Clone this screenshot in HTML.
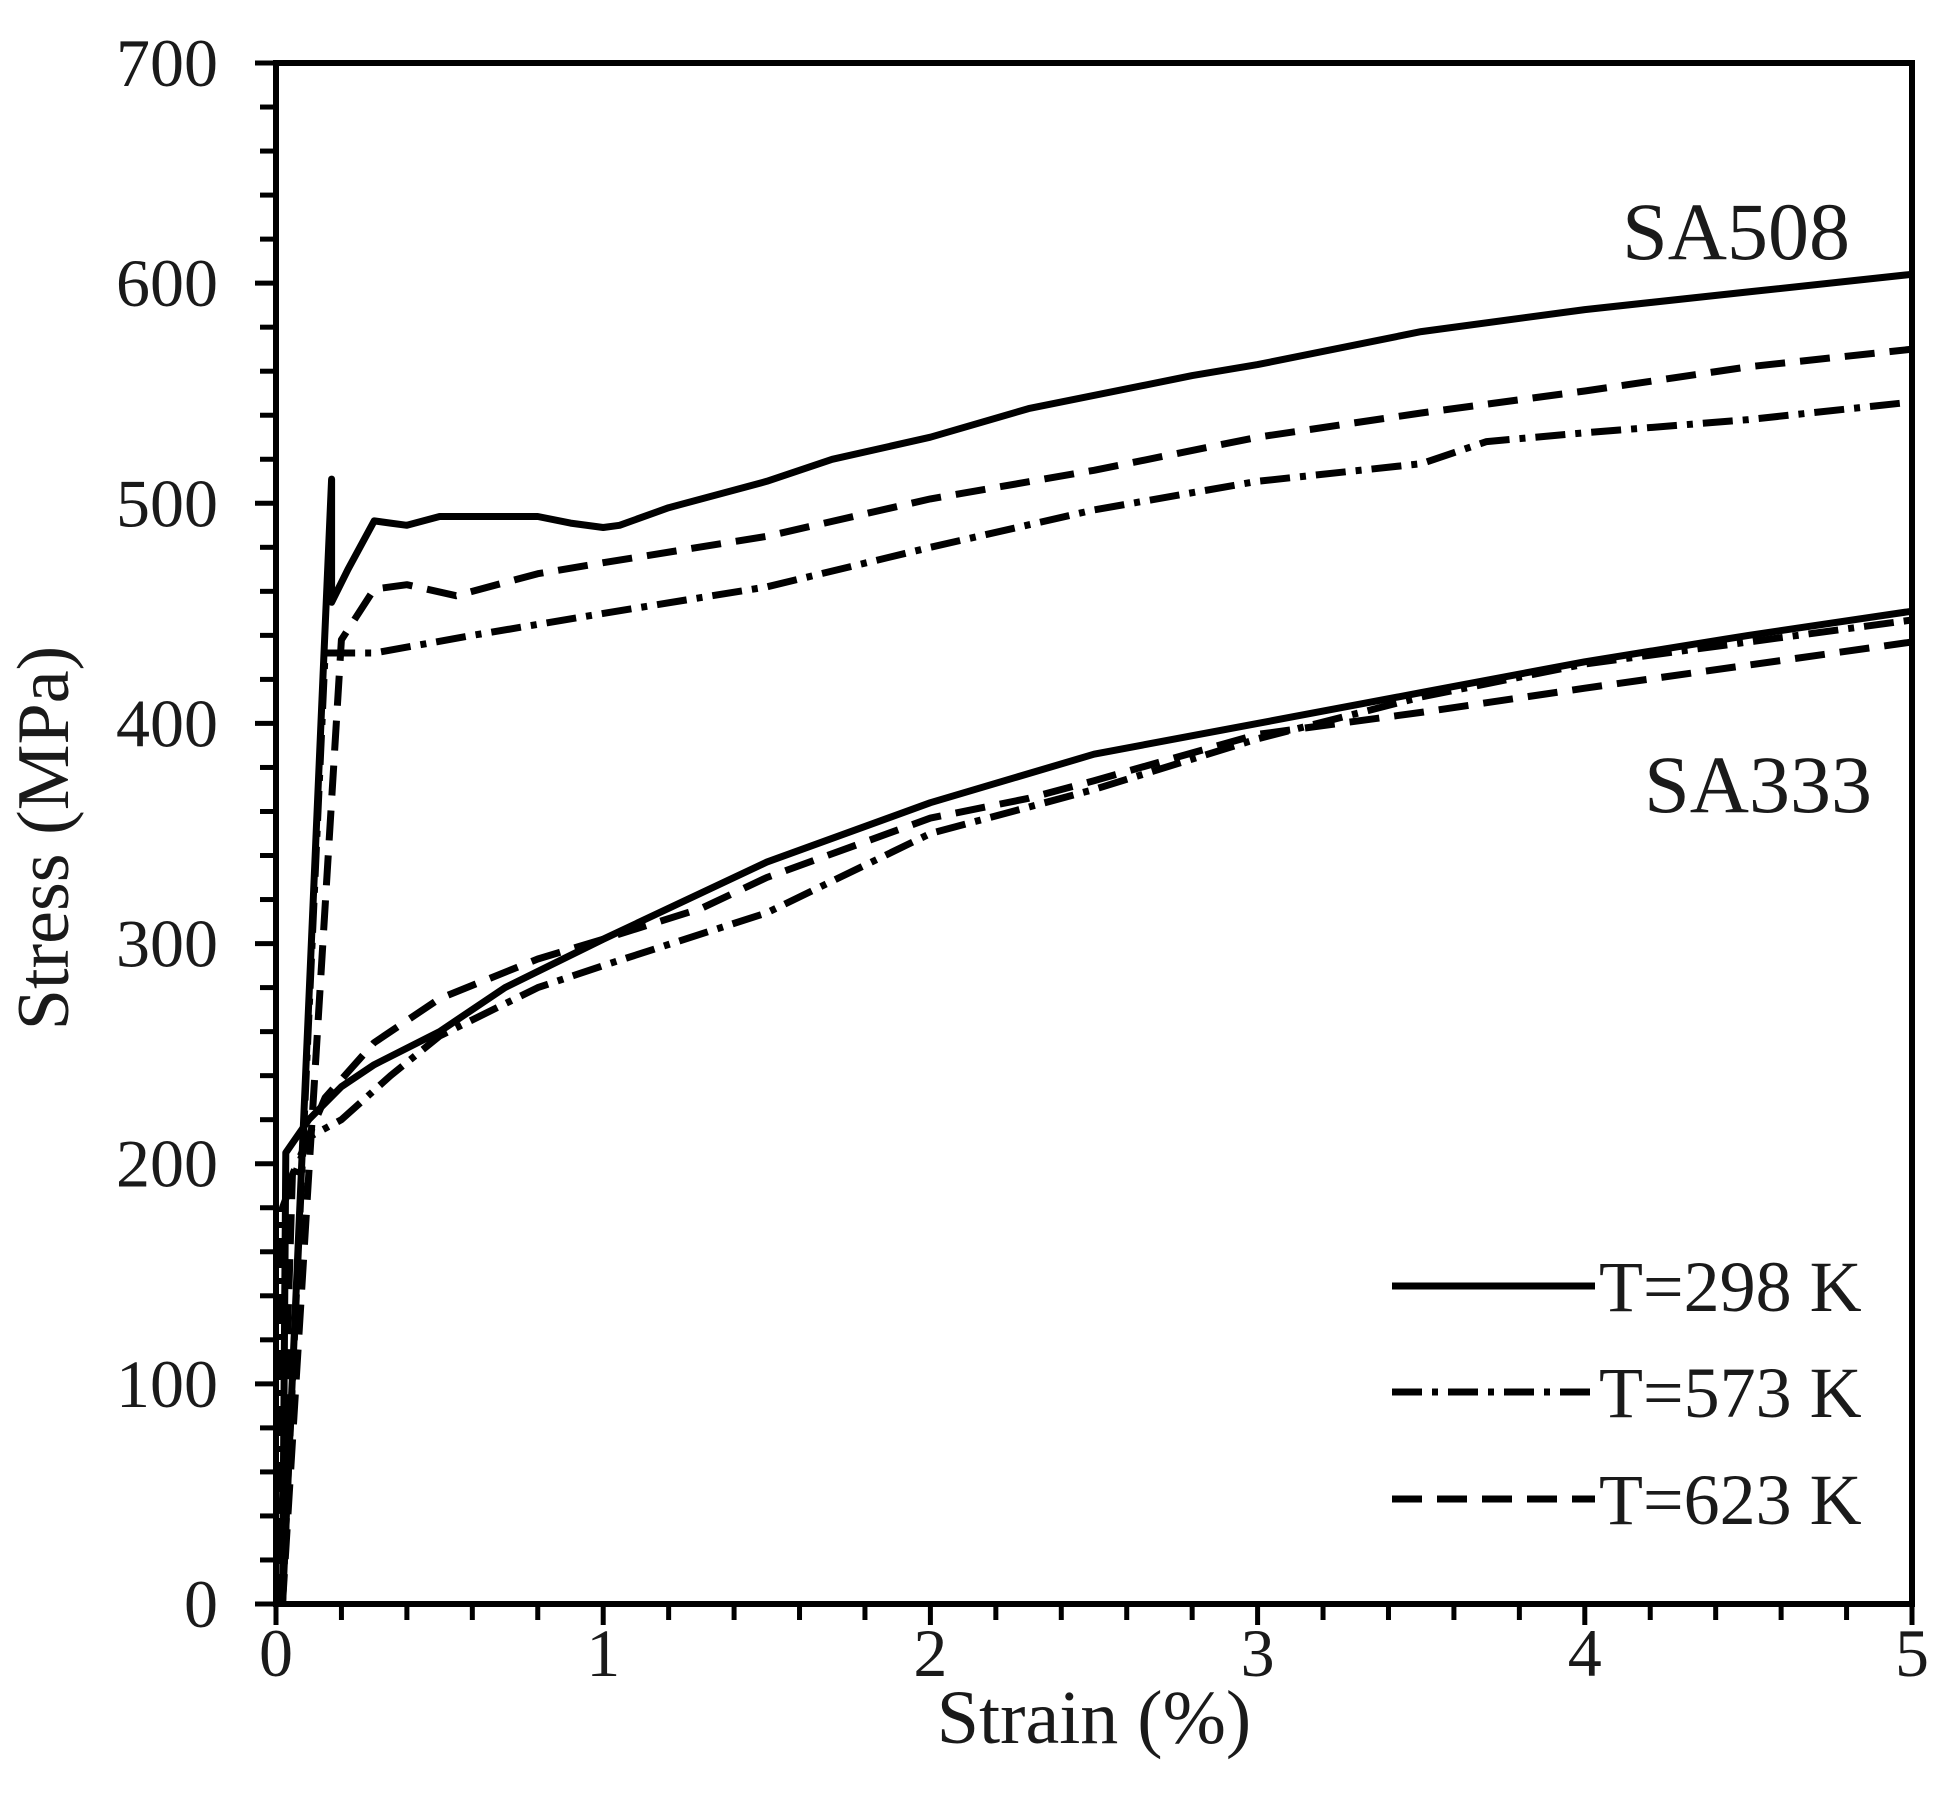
<!DOCTYPE html>
<html><head><meta charset="utf-8"><style>
html,body{margin:0;padding:0;background:#fff;}
svg{display:block;}
text{font-family:"Liberation Serif",serif;fill:#1a1a1a;}
</style></head><body>
<svg id="s" width="1959" height="1815" viewBox="0 0 1959 1815" xmlns="http://www.w3.org/2000/svg">
<rect width="1959" height="1815" fill="#fff"/>
<g id="ticks" stroke="#000" stroke-width="5"></g>
<g id="curves" fill="none" stroke="#000" stroke-width="7" stroke-linejoin="round"></g>
<rect x="276" y="63" width="1636" height="1541" fill="none" stroke="#000" stroke-width="6"/>
<g id="labels" font-size="68"></g>
<text x="1094" y="1743" font-size="76" text-anchor="middle">Strain (%)</text>
<text transform="translate(68,838) rotate(-90)" font-size="74" text-anchor="middle">Stress (MPa)</text>
<text x="1850" y="259" font-size="82" text-anchor="end">SA508</text>
<text x="1872" y="812" font-size="82" text-anchor="end">SA333</text>
<g fill="none" stroke="#000" stroke-width="7">
<line x1="1392" y1="1286" x2="1595" y2="1286"/>
<line x1="1392" y1="1392" x2="1595" y2="1392" stroke-dasharray="30,10,6,10"/>
<line x1="1392" y1="1499" x2="1595" y2="1499" stroke-dasharray="30,15"/>
</g>
<g font-size="72">
<text x="1599" y="1311">T=298 K</text>
<text x="1599" y="1417">T=573 K</text>
<text x="1599" y="1524">T=623 K</text>
</g>
</svg>
<script>
var X0=276,X1=1912,Y0=1604,Y1=63;
function px(e){return X0+e/5*(X1-X0);} function py(s){return Y0-s/700*(Y0-Y1);}
var NS="http://www.w3.org/2000/svg";
function el(p,t,a,txt){var e=document.createElementNS(NS,t);for(var k in a)e.setAttribute(k,a[k]);if(txt!=null)e.textContent=txt;document.getElementById(p).appendChild(e);}
for(var i=0;i<=25;i++){var x=px(i*0.2);el('ticks','line',{x1:x,y1:1604,x2:x,y2:(i%5==0?1625:1620)});}
for(var i=0;i<=35;i++){var y=py(i*20);el('ticks','line',{x1:(i%5==0?255:260),y1:y,x2:276,y2:y});}
for(var i=0;i<=5;i++)el('labels','text',{x:px(i),y:1676,'text-anchor':'middle'},String(i));
for(var i=0;i<=7;i++)el('labels','text',{x:218,y:py(i*100)+23,'text-anchor':'end'},String(i*100));
function curve(pts,dash){var d=pts.map(function(p,i){return (i?'L':'M')+px(p[0]).toFixed(1)+','+py(p[1]).toFixed(1);}).join(' ');var a={d:d};if(dash)a['stroke-dasharray']=dash;el('curves','path',a);}
var DD="30,10,6,10",DA="30,15";
curve([[0.02,0],[0.17,511],[0.17,455],[0.22,470],[0.3,492],[0.35,491],[0.4,490],[0.5,494],[0.8,494],[0.9,491],[1.0,489],[1.05,490],[1.2,498],[1.5,510],[1.7,520],[2,530],[2.3,543],[2.8,558],[3,563],[3.5,578],[4,588],[4.5,596],[5,604]]);
curve([[0.02,0],[0.15,432],[0.3,432],[0.6,440],[1,450],[1.5,462],[2,480],[2.5,497],[3,510],[3.5,518],[3.7,528],[4,532],[4.5,538],[5,546]],DD);
curve([[0.02,0],[0.2,438],[0.3,461],[0.4,463],[0.55,458],[0.8,468],[1,473],[1.5,485],[2,502],[2.5,515],[3,530],[3.5,541],[4,551],[4.5,562],[5,570]],DA);
curve([[0.02,0],[0.03,205],[0.1,220],[0.2,235],[0.3,245],[0.5,260],[0.7,280],[1,302],[1.2,316],[1.5,337],[2,364],[2.5,386],[3,400],[3.5,414],[4,428],[4.5,440],[5,451]]);
curve([[0.01,0],[0.02,180],[0.1,212],[0.2,220],[0.35,240],[0.5,258],[0.8,280],[1,290],[1.5,314],[2,350],[2.5,370],[3,393],[3.5,412],[4,427],[5,447]],DD);
curve([[0.01,0],[0.05,195],[0.15,230],[0.3,255],[0.5,275],[0.8,293],[1,302],[1.3,316],[1.5,330],[2,357],[2.3,366],[2.5,374],[3,395],[3.5,405],[4,416],[5,437]],DA);
</script>
</body></html>
